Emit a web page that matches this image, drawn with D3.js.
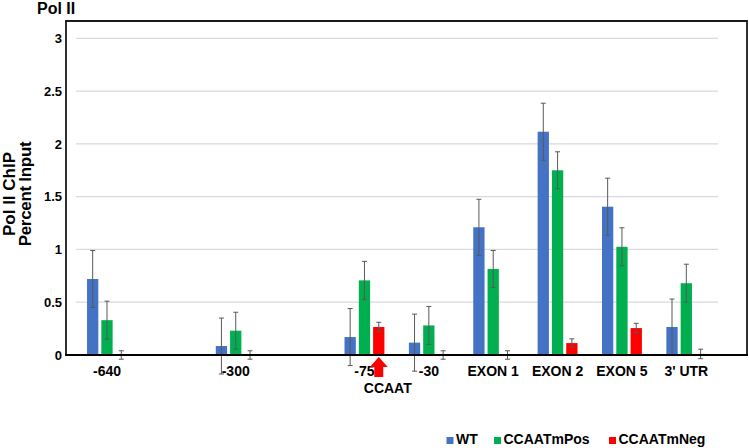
<!DOCTYPE html>
<html>
<head>
    <meta charset="utf-8">
    <title>Pol II ChIP</title>
    <script src="https://d3js.org/d3.v7.min.js"></script>
    <style>
        body { margin: 0; background: #fff; }
        text { font-family: "Liberation Sans", Arial, sans-serif; font-weight: bold; fill: #000; }
    </style>
</head>
<body>
    <svg width="749" height="448"></svg>
    <script>
        // categories ("" = empty slot on the axis)
        const categories = ["-640", "", "-300", "", "-75", "-30", "EXON 1", "EXON 2", "EXON 5", "3' UTR"]
        const seriesNames = ["WT", "CCAATmPos", "CCAATmNeg"]
        const seriesColors = ["#4472C4", "#00B050", "#FF0000"]

        const wt     = [0.72, null, 0.085, null, 0.17, 0.117, 1.21, 2.115, 1.405, 0.265]
        const wtErr  = [0.27, null, 0.265, null, 0.27, 0.27, 0.265, 0.27, 0.27, 0.265]
        const pos    = [0.33, null, 0.23, null, 0.707, 0.28, 0.815, 1.75, 1.025, 0.68]
        const posErr = [0.18, null, 0.175, null, 0.18, 0.18, 0.175, 0.175, 0.18, 0.18]
        const neg    = [0.0, null, 0.0, null, 0.265, 0.0, 0.0, 0.113, 0.255, 0.01]
        const negErr = [0.04, null, 0.04, null, 0.045, 0.04, 0.04, 0.04, 0.045, 0.045]

        const yTicks = [0, 0.5, 1, 1.5, 2, 2.5, 3]
        const arrowAt = "-75"   // CCAAT arrow under the CCAATmNeg bar

        const values = [wt, pos, neg]
        const errors = [wtErr, posErr, negErr]

        const svg = d3.select("svg")

        const xScale = d3.scaleBand()
            .domain(d3.range(categories.length))
            .range([74.8, 718.5])

        const xSub = d3.scaleBand()
            .domain(d3.range(seriesNames.length))
            .range([-19.95, 19.95])
            .paddingInner(0.21)

        const yScale = d3.scaleLinear()
            .domain([0, 3])
            .range([355, 38.3])

        const cx = i => xScale(i) + xScale.bandwidth() / 2
        const y0 = yScale(0)

        // gridlines
        svg.append("g").selectAll("line")
            .data(yTicks.filter(d => d > 0))
            .join("line")
            .attr("x1", 76).attr("x2", 718)
            .attr("y1", d => yScale(d)).attr("y2", d => yScale(d))
            .attr("stroke", "#d9d9d9").attr("stroke-width", 1.2)

        // frame: top, left, right
        const frame = svg.append("g").attr("stroke", "#1a1a1a").attr("stroke-width", 1.8)
        frame.append("line").attr("x1", 66).attr("x2", 66).attr("y1", 21).attr("y2", y0)
        frame.append("line").attr("x1", 65.1).attr("x2", 747.9).attr("y1", 21).attr("y2", 21)
        frame.append("line").attr("x1", 747).attr("x2", 747).attr("y1", 21).attr("y2", y0)

        // bars
        const rows = []
        values.forEach((vals, s) => vals.forEach((v, i) => {
            if (v !== null) rows.push({ s, i, v, e: errors[s][i] })
        }))

        svg.append("g").selectAll("rect")
            .data(rows)
            .join("rect")
            .attr("x", d => cx(d.i) + xSub(d.s))
            .attr("width", xSub.bandwidth())
            .attr("y", d => yScale(d.v))
            .attr("height", d => y0 - yScale(d.v))
            .attr("fill", d => seriesColors[d.s])

        // error bars
        const eb = svg.append("g").attr("stroke", "#595959").attr("stroke-width", 1)
        rows.forEach(d => {
            const x = cx(d.i) + xSub(d.s) + xSub.bandwidth() / 2
            const y1 = yScale(d.v + d.e), y2 = yScale(d.v - d.e)
            eb.append("line").attr("x1", x).attr("x2", x).attr("y1", y1).attr("y2", y2)
            eb.append("line").attr("x1", x - 2.5).attr("x2", x + 2.5).attr("y1", y1).attr("y2", y1)
            eb.append("line").attr("x1", x - 2.5).attr("x2", x + 2.5).attr("y1", y2).attr("y2", y2)
        })

        // x axis
        const xAxis = d3.axisBottom(xScale)
            .tickSize(0)
            .tickPadding(11)
            .tickFormat(i => categories[i])
        const gx = svg.append("g")
            .attr("transform", `translate(0,${y0})`)
            .call(xAxis)
        gx.select(".domain").remove()
        gx.selectAll("text")
            .attr("font-size", 14)
            .attr("font-family", "Liberation Sans, Arial, sans-serif")
            .attr("font-weight", "bold")
            .attr("fill", "#000")

        // baseline
        svg.append("line")
            .attr("x1", 65.1).attr("x2", 748)
            .attr("y1", y0).attr("y2", y0)
            .attr("stroke", "#000").attr("stroke-width", 1.8)

        // y axis
        const yAxis = d3.axisLeft(yScale)
            .tickValues(yTicks)
            .tickSize(0)
            .tickPadding(4)
            .tickFormat(d => d)
        const gy = svg.append("g")
            .attr("transform", "translate(66,0)")
            .call(yAxis)
        gy.select(".domain").remove()
        gy.selectAll("text")
            .attr("font-size", 13)
            .attr("font-family", "Liberation Sans, Arial, sans-serif")
            .attr("font-weight", "bold")
            .attr("fill", "#000")

        // CCAAT arrow
        const ai = categories.indexOf(arrowAt)
        const ax = cx(ai) + xSub(2) + xSub.bandwidth() / 2
        const ay = y0 + 2
        svg.append("path")
            .attr("d", `M${ax},${ay} L${ax + 9},${ay + 10} L${ax + 4.5},${ay + 10} L${ax + 4.5},${ay + 20} L${ax - 4.5},${ay + 20} L${ax - 4.5},${ay + 10} L${ax - 9},${ay + 10} Z`)
            .attr("fill", "#FF0000")
        svg.append("text")
            .attr("x", ax + 9).attr("y", 393)
            .attr("text-anchor", "middle")
            .attr("font-size", 14)
            .text("CCAAT")

        // titles
        svg.append("text")
            .attr("x", 37).attr("y", 14)
            .attr("font-size", 16)
            .text("Pol II")

        const yt = svg.append("text")
            .attr("transform", "translate(15,194) rotate(-90)")
            .attr("text-anchor", "middle")
            .attr("font-size", 17)
        yt.append("tspan").attr("x", 0).attr("y", 0).text("Pol II ChIP")
        yt.append("tspan").attr("x", 0).attr("y", 16).attr("letter-spacing", -0.3).text("Percent Input")

        // legend
        const legendX = [446.5, 494, 609]
        const lg = svg.append("g")
        seriesNames.forEach((name, s) => {
            lg.append("rect")
                .attr("x", legendX[s]).attr("y", 437)
                .attr("width", 7).attr("height", 7)
                .attr("fill", seriesColors[s])
            lg.append("text")
                .attr("x", legendX[s] + 9.5).attr("y", 444)
                .attr("font-size", 14)
                .text(name)
        })
    </script>
</body>
</html>
